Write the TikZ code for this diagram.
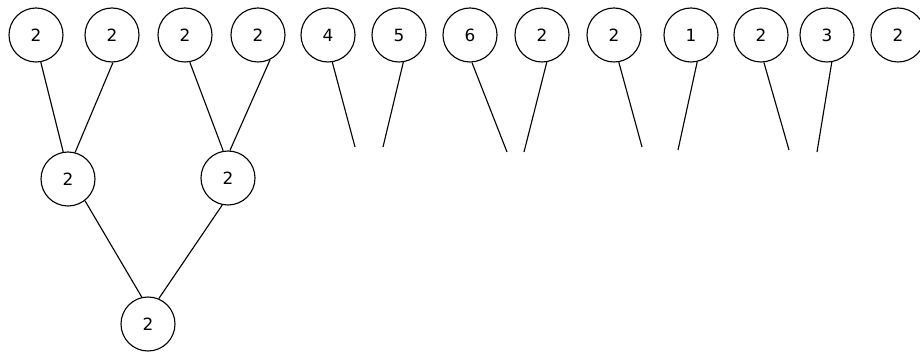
\documentclass[tikz,border=0pt]{standalone}
\usepackage{fontspec}
\setmainfont{DejaVu Sans}
\usepackage{tikz}

\begin{document}
\begin{tikzpicture}[x=0.025cm, y=-0.025cm,
  num/.style={circle, draw, line width=0.8pt, minimum size=1.35cm, inner sep=0pt, font=\fontsize{12}{14}\selectfont},
  link/.style={line width=0.8pt}]
\useasboundingbox (0,0) rectangle (920,352);

% Top row
\node[num] (a1) at (36,35) {2};
\node[num] (a2) at (112,35) {2};
\node[num] (a3) at (185,35) {2};
\node[num] (a4) at (258,35) {2};
\node[num] (a5) at (328,35) {4};
\node[num] (a6) at (399,35) {5};
\node[num] (a7) at (470,35) {6};
\node[num] (a8) at (542,35) {2};
\node[num] (a9) at (614,35) {2};
\node[num] (a10) at (691,35) {1};
\node[num] (a11) at (761,35) {2};
\node[num] (a12) at (827,35) {3};
\node[num] (a13) at (898,35) {2};

% Middle and bottom
\node[num] (b1) at (68,179) {2};
\node[num] (b2) at (228,178) {2};
\node[num] (c1) at (148,324) {2};

% Loose ends
\coordinate (e5) at (355,147);
\coordinate (e6) at (383,147);
\coordinate (e7) at (507,152);
\coordinate (e8) at (524,152);
\coordinate (e9) at (642,147);
\coordinate (e10) at (678,150);
\coordinate (e11) at (789,150);
\coordinate (e12) at (817,152);

% Lines
\draw[link] (a1.-80) -- (b1.100);
\draw[link] (a2.-88) -- (b1.75);
\draw[link] (a3.-80) -- (b2.100);
\draw[link] (a4.-64) -- (b2.86);
\draw[link] (b1.-52) -- (c1.103);
\draw[link] (b2.-102) -- (c1.67);

\draw[link] (a5.-81) -- (e5);
\draw[link] (a6.-81) -- (e6);
\draw[link] (a7.-86) -- (e7);
\draw[link] (a8.-80) -- (e8);
\draw[link] (a9.-80) -- (e9);
\draw[link] (a10.-77) -- (e10);
\draw[link] (a11.-84) -- (e11);
\draw[link] (a12.-80) -- (e12);
\end{tikzpicture}
\end{document}
